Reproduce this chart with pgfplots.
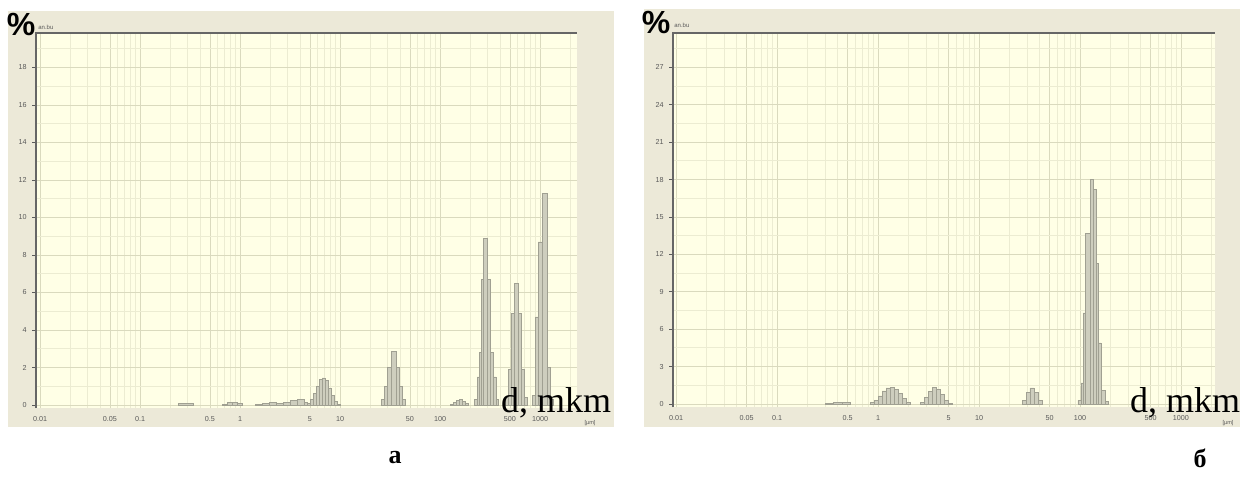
\documentclass[border=0pt]{standalone}
\usepackage{fontspec}
\setmainfont{Liberation Sans}
\newfontfamily\seriffont{Liberation Serif}
\usepackage{pgfplots}
\pgfplotsset{compat=1.18}
\definecolor{frame}{RGB}{236,233,216}
\definecolor{cream}{RGB}{255,255,230}
\definecolor{gmaj}{RGB}{218,218,190}
\definecolor{gmin}{RGB}{236,236,210}
\definecolor{barfill}{RGB}{206,206,190}
\definecolor{baredge}{RGB}{160,160,146}
\definecolor{ticktxt}{RGB}{90,90,90}
\begin{document}
\begin{tikzpicture}
\fill[white] (0pt,0pt) rectangle (621pt,239.5pt);
% panel frames
\fill[frame] (4pt,26pt) rectangle (307pt,234pt);
\fill[frame] (322pt,26pt) rectangle (620pt,235pt);

% ---------------- panel a ----------------
\begin{semilogxaxis}[scale only axis, at={(18pt,35.5pt)}, anchor=south west,
  width=270.5pt, height=187.5pt,
  xmin=0.0091, xmax=2344, ymin=-0.16, ymax=19.84,
  ytick={0,2,...,18}, minor ytick={1,3,...,19},
  ytick pos=left,
  axis background/.style={fill=cream},
  axis line style={draw=none},
  xtick={0.01,0.05,0.1,0.5,1,5,10,50,100,500,1000},
  xticklabels={0.01,0.05,0.1,0.5,1,5,10,50,100,500,1000},
  minor xtick={0.02,0.03,0.04,0.06,0.07,0.08,0.09,0.2,0.3,0.4,0.6,0.7,0.8,0.9,2,3,4,6,7,8,9,20,30,40,60,70,80,90,200,300,400,600,700,800,900,2000},
  grid=both,
  major grid style={gmaj, line width=0.4pt},
  minor grid style={gmin, line width=0.4pt},
  x tick style={draw=none},
  minor tick length=0pt,
  y tick style={ticktxt, line width=0.4pt},
  tick align=outside, major tick length=2pt,
  /pgf/number format/assume math mode=true,
  xticklabel style={font=\fontsize{3.6}{4}\selectfont, text=ticktxt, anchor=north, inner sep=0pt, yshift=-2.2pt},
  yticklabel style={font=\fontsize{3.6}{4}\selectfont, text=ticktxt, anchor=east, inner sep=0pt, xshift=-2.5pt},
  clip=false]
\draw[gray!80!black, line width=0.6pt] (rel axis cs:0,0) -- (rel axis cs:0,1) -- (rel axis cs:1,1);
\addplot[ybar interval, fill=barfill, draw=baredge, line width=0.3pt] coordinates {(0.240,0.1) (0.339,0)};
\addplot[ybar interval, fill=barfill, draw=baredge, line width=0.3pt] coordinates {(0.661,0.05) (0.741,0.12) (0.832,0.15) (0.933,0.1) (1.047,0)};
\addplot[ybar interval, fill=barfill, draw=baredge, line width=0.3pt] coordinates {(1.413,0.05) (1.660,0.1) (1.950,0.12) (2.291,0.1) (2.692,0.15) (3.162,0.25) (3.715,0.28) (4.365,0.15)
  (4.677,0.1) (5.012,0.3) (5.370,0.6) (5.754,1.0) (6.166,1.35) (6.607,1.45) (7.079,1.3) (7.586,0.9) (8.128,0.5) (8.710,0.2) (9.333,0.05) (10,0)};
\addplot[ybar interval, fill=barfill, draw=baredge, line width=0.3pt] coordinates {(25.70,0.3) (27.54,1.0) (29.51,2.0) (32.36,2.85) (36.31,2.0) (38.90,1.0) (41.69,0.3) (44.67,0)};
\addplot[ybar interval, fill=barfill, draw=baredge, line width=0.3pt] coordinates {(125.9,0.05) (134.9,0.15) (144.5,0.25) (154.9,0.28) (166.0,0.2) (177.8,0.1) (190.5,0)};
\addplot[ybar interval, fill=barfill, draw=baredge, line width=0.3pt] coordinates {(218.8,0.3) (234.4,1.5) (245.5,2.8) (257.0,6.7) (269.2,8.9) (295.1,6.7) (316.2,2.8) (338.8,1.5) (363.1,0.3) (380.2,0)};
\addplot[ybar interval, fill=barfill, draw=baredge, line width=0.3pt] coordinates {(446.7,0.4) (478.6,1.9) (512.9,4.9) (549.5,6.5) (602.6,4.9) (645.7,1.9) (691.8,0.4) (741.3,0)};
\addplot[ybar interval, fill=barfill, draw=baredge, line width=0.3pt] coordinates {(831.8,0.5) (891.3,4.7) (955.0,8.7) (1047,11.3) (1175,2.0) (1259,0.3) (1349,0)};
\end{semilogxaxis}

% ---------------- panel b ----------------
\begin{semilogxaxis}[scale only axis, at={(336.5pt,36pt)}, anchor=south west,
  width=271pt, height=187pt,
  xmin=0.00933, xmax=2172, ymin=-0.24, ymax=29.75,
  ytick={0,3,...,27}, minor ytick={1.5,4.5,...,28.5},
  ytick pos=left,
  axis background/.style={fill=cream},
  axis line style={draw=none},
  xtick={0.01,0.05,0.1,0.5,1,5,10,50,100,500,1000},
  xticklabels={0.01,0.05,0.1,0.5,1,5,10,50,100,500,1000},
  minor xtick={0.02,0.03,0.04,0.06,0.07,0.08,0.09,0.2,0.3,0.4,0.6,0.7,0.8,0.9,2,3,4,6,7,8,9,20,30,40,60,70,80,90,200,300,400,600,700,800,900,2000},
  grid=both,
  major grid style={gmaj, line width=0.4pt},
  minor grid style={gmin, line width=0.4pt},
  x tick style={draw=none},
  minor tick length=0pt,
  y tick style={ticktxt, line width=0.4pt},
  tick align=outside, major tick length=2pt,
  /pgf/number format/assume math mode=true,
  xticklabel style={font=\fontsize{3.6}{4}\selectfont, text=ticktxt, anchor=north, inner sep=0pt, yshift=-2.2pt},
  yticklabel style={font=\fontsize{3.6}{4}\selectfont, text=ticktxt, anchor=east, inner sep=0pt, xshift=-2.5pt},
  clip=false]
\draw[gray!80!black, line width=0.6pt] (rel axis cs:0,0) -- (rel axis cs:0,1) -- (rel axis cs:1,1);
\addplot[ybar interval, fill=barfill, draw=baredge, line width=0.3pt] coordinates {(0.299,0.05) (0.358,0.1) (0.440,0.1) (0.528,0)};
\addplot[ybar interval, fill=barfill, draw=baredge, line width=0.3pt] coordinates {(0.833,0.1) (0.913,0.3) (1.0,0.65) (1.096,1.05) (1.200,1.3) (1.315,1.36) (1.440,1.2) (1.578,0.85) (1.728,0.45) (1.893,0.15) (2.074,0)};
\addplot[ybar interval, fill=barfill, draw=baredge, line width=0.3pt] coordinates {(2.606,0.15) (2.853,0.5) (3.126,1.0) (3.424,1.36) (3.751,1.2) (4.108,0.75) (4.500,0.3) (4.930,0.08) (5.40,0)};
\addplot[ybar interval, fill=barfill, draw=baredge, line width=0.3pt] coordinates {(26.66,0.3) (29.20,0.9) (31.98,1.3) (35.03,0.9) (38.37,0.3) (42.03,0)};
\addplot[ybar interval, fill=barfill, draw=baredge, line width=0.3pt] coordinates {(95.5,0.3) (102.3,1.7) (107.1,7.3) (112.1,13.7) (125.7,18.0) (134.6,17.2) (143.9,11.3) (150.7,4.9) (161.4,1.1) (176.9,0.2) (189.3,0)};
\end{semilogxaxis}

% ---------------- annotations ----------------
\node[font=\bfseries\fontsize{16}{16}\selectfont, inner sep=0pt] at (10.5pt,227.5pt) {\%};
\node[font=\fontsize{3}{3}\selectfont, text=ticktxt, inner sep=0pt, anchor=west] at (19pt,226pt) {an.bu};
\node[font=\bfseries\fontsize{16}{16}\selectfont, inner sep=0pt] at (328pt,228.5pt) {\%};
\node[font=\fontsize{3}{3}\selectfont, text=ticktxt, inner sep=0pt, anchor=west] at (337pt,227pt) {an.bu};

\node[font=\seriffont\fontsize{18}{18}\selectfont, inner sep=0pt] at (278pt,38pt) {d, mkm};
\node[font=\seriffont\fontsize{18}{18}\selectfont, inner sep=0pt] at (592.5pt,38pt) {d, mkm};
\node[font=\fontsize{2.8}{3}\selectfont, text=ticktxt, inner sep=0pt] at (295pt,28pt) {[µm]};
\node[font=\fontsize{2.8}{3}\selectfont, text=ticktxt, inner sep=0pt] at (614pt,28pt) {[µm]};

\node[font=\seriffont\bfseries\fontsize{13}{13}\selectfont, inner sep=0pt] at (197.5pt,10.5pt) {а};
\node[font=\seriffont\bfseries\fontsize{13}{13}\selectfont, inner sep=0pt] at (600pt,10.5pt) {б};
\end{tikzpicture}
\end{document}
